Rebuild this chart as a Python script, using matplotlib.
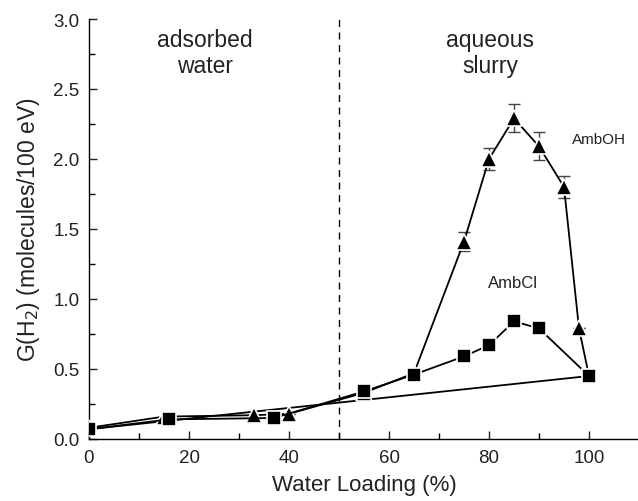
import matplotlib
matplotlib.use("Agg")
import matplotlib.pyplot as plt
import numpy as np

plt.rcParams['font.family'] = ['Liberation Sans', 'DejaVu Sans']

# AmbOH (triangles)
oh_x = [0, 15, 33, 40, 55, 65, 75, 80, 85, 90, 95, 98, 100]
oh_y = [0.08, 0.16, 0.17, 0.18, 0.33, 0.47, 1.41, 2.00, 2.29, 2.09, 1.80, 0.79, 0.45]
oh_err = [0, 0, 0, 0, 0, 0, 0.07, 0.08, 0.10, 0.10, 0.08, 0, 0]

# AmbCl (squares)
cl_x = [0, 16, 37, 55, 65, 75, 80, 85, 90, 100]
cl_y = [0.07, 0.14, 0.15, 0.34, 0.46, 0.59, 0.67, 0.84, 0.79, 0.45]

# straight reference line
ref_x = [0, 100]
ref_y = [0.07, 0.45]

fig = plt.figure(figsize=(6.38, 5.02), dpi=100)
ax = fig.add_axes([89/638, 62/502, 550/638, 420/502])

ax.plot(ref_x, ref_y, color='black', lw=1.3, zorder=2)
ax.errorbar(oh_x, oh_y, yerr=oh_err, fmt='none', ecolor='#444444', elinewidth=1.0,
            capsize=4, capthick=1.0, zorder=2)
ax.plot(oh_x, oh_y, color='black', lw=1.3, marker='^', markersize=11.5,
        markeredgecolor='white', markeredgewidth=1.2, zorder=3)
ax.plot(cl_x, cl_y, color='black', lw=1.3, marker='s', markersize=9.5,
        markeredgecolor='white', markeredgewidth=1.2, zorder=3)

ax.axvline(50, color='black', lw=1.0, ls=(0, (5, 4)), zorder=1)

ax.set_xlim(0, 110)
ax.set_ylim(0, 3.0)
ax.set_xticks([0, 20, 40, 60, 80, 100])
ax.set_xticks(np.arange(10, 111, 20), minor=True)
ax.set_yticks([0.0, 0.5, 1.0, 1.5, 2.0, 2.5, 3.0])
ax.set_yticks(np.arange(0.25, 3.0, 0.5), minor=True)
ax.set_yticklabels(["0.0", "0.5", "1.0", "1.5", "2.0", "2.5", "3.0"])
ax.tick_params(direction='in', length=6, width=1, labelsize=13.5, colors='#222222', pad=7)
ax.tick_params(which='minor', direction='in', length=4, width=1)
ax.spines['top'].set_visible(False)
ax.spines['right'].set_visible(False)
for s in ['left', 'bottom']:
    ax.spines[s].set_linewidth(1.0)

ax.set_xlabel("Water Loading (%)", fontsize=16, color='#222222', labelpad=6)
ax.set_ylabel("G(H$_2$) (molecules/100 eV)", fontsize=16.5, color='#222222', labelpad=8)

ax.text(23.2, 2.76, "adsorbed\nwater", ha='center', va='center', fontsize=16.5,
        color='#222222', linespacing=1.15)
ax.text(80.2, 2.76, "aqueous\nslurry", ha='center', va='center', fontsize=16.5,
        color='#222222', linespacing=1.15)
ax.text(96.6, 2.14, "AmbOH", ha='left', va='center', fontsize=11, color='#222222')
ax.text(84.8, 1.12, "AmbCl", ha='center', va='center', fontsize=12, color='#222222')

plt.savefig("out.png", dpi=100)
